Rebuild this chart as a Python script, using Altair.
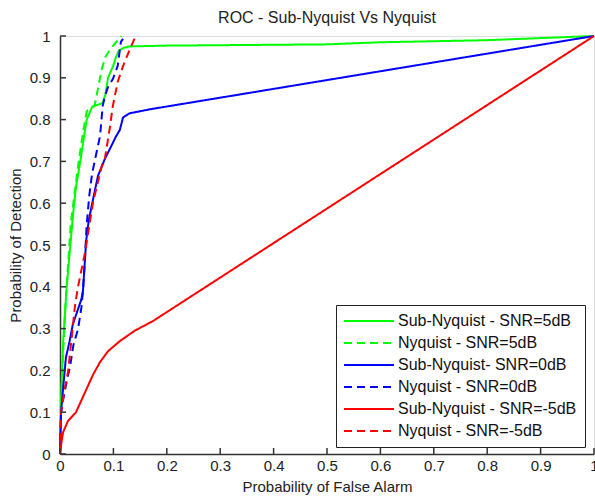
import altair as alt
import pandas as pd

series_names = [
    "Sub-Nyquist - SNR=5dB",
    "Nyquist - SNR=5dB",
    "Sub-Nyquist- SNR=0dB",
    "Nyquist - SNR=0dB",
    "Sub-Nyquist - SNR=-5dB",
    "Nyquist - SNR=-5dB",
]
series_colors = ["#00ff00", "#00ff00", "#0000ff", "#0000ff", "#ff0000", "#ff0000"]
series_dash = [[1, 0], [8, 5], [1, 0], [8, 5], [1, 0], [8, 5]]

# Sub-Nyquist SNR=5dB
g_sub_x = [0, 0.002, 0.006, 0.012, 0.018, 0.025, 0.03, 0.038, 0.045, 0.05, 0.06, 0.08,
           0.085, 0.09, 0.1, 0.105, 0.11, 0.12, 0.13, 0.2, 0.3, 0.5, 0.6, 0.8, 1.0]
g_sub_y = [0, 0.13, 0.27, 0.39, 0.48, 0.58, 0.64, 0.70, 0.76, 0.80, 0.83, 0.84,
           0.86, 0.90, 0.93, 0.95, 0.965, 0.972, 0.975, 0.977, 0.978, 0.98, 0.985, 0.99, 1.0]
# Nyquist SNR=5dB
g_nyq_x = [0, 0.002, 0.005, 0.01, 0.015, 0.02, 0.028, 0.035, 0.042, 0.05, 0.065, 0.072,
           0.078, 0.085, 0.095, 0.105, 0.112, 0.115]
g_nyq_y = [0, 0.1, 0.22, 0.35, 0.45, 0.55, 0.63, 0.70, 0.76, 0.82, 0.835, 0.88,
           0.92, 0.95, 0.97, 0.985, 0.995, 1.0]
# Sub-Nyquist SNR=0dB
b_sub_x = [0, 0.002, 0.006, 0.011, 0.018, 0.024, 0.032, 0.04, 0.043, 0.046, 0.049, 0.054,
           0.062, 0.071, 0.084, 0.095, 0.105, 0.112, 0.118, 0.13, 0.17, 1.0]
b_sub_y = [0, 0.1, 0.16, 0.23, 0.27, 0.31, 0.34, 0.37, 0.39, 0.45, 0.51, 0.56,
           0.61, 0.665, 0.706, 0.734, 0.76, 0.775, 0.805, 0.815, 0.825, 1.0]
# Nyquist SNR=0dB
b_nyq_x = [0, 0.002, 0.006, 0.012, 0.019, 0.025, 0.034, 0.04, 0.043, 0.046, 0.05, 0.055,
           0.06, 0.067, 0.075, 0.08, 0.084, 0.09, 0.099, 0.108, 0.114, 0.118]
b_nyq_y = [0, 0.1, 0.13, 0.17, 0.21, 0.26, 0.30, 0.35, 0.39, 0.45, 0.55, 0.62,
           0.67, 0.713, 0.761, 0.833, 0.856, 0.878, 0.897, 0.928, 0.986, 0.993]
# Sub-Nyquist SNR=-5dB
r_sub_x = [0, 0.003, 0.006, 0.015, 0.03, 0.047, 0.062, 0.075, 0.09, 0.112, 0.14, 0.174, 1.0]
r_sub_y = [0, 0.03, 0.053, 0.079, 0.10, 0.148, 0.19, 0.22, 0.246, 0.27, 0.295, 0.318, 1.0]
# Nyquist SNR=-5dB
r_nyq_x = [0, 0.002, 0.008, 0.015, 0.022, 0.028, 0.03, 0.034, 0.047, 0.062, 0.08, 0.084,
           0.093, 0.099, 0.108, 0.118, 0.131, 0.14]
r_nyq_y = [0, 0.1, 0.15, 0.196, 0.28, 0.354, 0.371, 0.402, 0.483, 0.603, 0.698, 0.706,
           0.778, 0.833, 0.89, 0.928, 0.969, 0.995]

tick_values = [0, 0.1, 0.2, 0.3, 0.4, 0.5, 0.6, 0.7, 0.8, 0.9, 1]

curves = [(g_sub_x, g_sub_y), (g_nyq_x, g_nyq_y), (b_sub_x, b_sub_y),
          (b_nyq_x, b_nyq_y), (r_sub_x, r_sub_y), (r_nyq_x, r_nyq_y)]
rows = []
for name, (xs, ys) in zip(series_names, curves):
    for i, (xv, yv) in enumerate(zip(xs, ys)):
        rows.append({"pfa": xv, "pd": yv, "series": name, "idx": i})
df = pd.DataFrame(rows)
ticks_df = pd.DataFrame({"t": tick_values})

FONT = "Liberation Sans"
AX = "#333333"

xscale = alt.Scale(domain=[0, 1], nice=False)
yscale = alt.Scale(domain=[0, 1], nice=False)

x_axis = alt.Axis(values=tick_values, format="~g", grid=False, ticks=False,
                  domainColor=AX, domainWidth=1.5, labelFont=FONT, labelFontSize=15,
                  labelColor="#222", labelPadding=4, title="Probability of False Alarm",
                  titleFont=FONT, titleFontSize=15, titleFontWeight="normal",
                  titleColor="#222", titlePadding=6, labelFlush=False)
y_axis = alt.Axis(values=tick_values, format="~g", grid=False, ticks=False,
                  domainColor=AX, domainWidth=1.5, labelFont=FONT, labelFontSize=15,
                  labelColor="#222", labelPadding=10, title="Probability of Detection",
                  titleFont=FONT, titleFontSize=15, titleFontWeight="normal",
                  titleColor="#222", titlePadding=6, labelFlush=False)

lines = alt.Chart(df).mark_line(strokeWidth=2).encode(
    x=alt.X("pfa:Q", scale=xscale, axis=x_axis),
    y=alt.Y("pd:Q", scale=yscale, axis=y_axis),
    color=alt.Color("series:N", scale=alt.Scale(domain=series_names, range=series_colors),
                    legend=alt.Legend(title=None, orient="none", legendX=276, legendY=269,
                                      labelFont=FONT, labelFontSize=16, labelColor="#111",
                                      labelLimit=400, symbolType="M-2,0H10.5", symbolSize=64,
                                      symbolStrokeWidth=2, rowPadding=6, padding=8,
                                      strokeColor="#222", fillColor="white",
                                      labelOffset=38)),
    strokeDash=alt.StrokeDash("series:N", scale=alt.Scale(domain=series_names, range=series_dash)),
    order="idx:Q",
)

xticks = alt.Chart(ticks_df).mark_rule(color=AX, strokeWidth=1.5).encode(
    x=alt.X("t:Q", scale=xscale), y=alt.value(418), y2=alt.value(412))
yticks = alt.Chart(ticks_df).mark_rule(color=AX, strokeWidth=1.5).encode(
    y=alt.Y("t:Q", scale=yscale), x=alt.value(0), x2=alt.value(6))

chart = alt.layer(lines, xticks, yticks).properties(
    width=534, height=418,
    title=alt.Title("ROC - Sub-Nyquist Vs Nyquist", font=FONT, fontSize=16,
                    fontWeight="normal", color="#222", frame="group", anchor="middle",
                    offset=3),
    autosize=alt.AutoSizeParams(type="none"),
    padding={"left": 60, "top": 36, "right": 1, "bottom": 46},
).configure_view(stroke=None).configure(background="white")

chart.save("out.html", embed_options={"renderer": "svg", "actions": False})
